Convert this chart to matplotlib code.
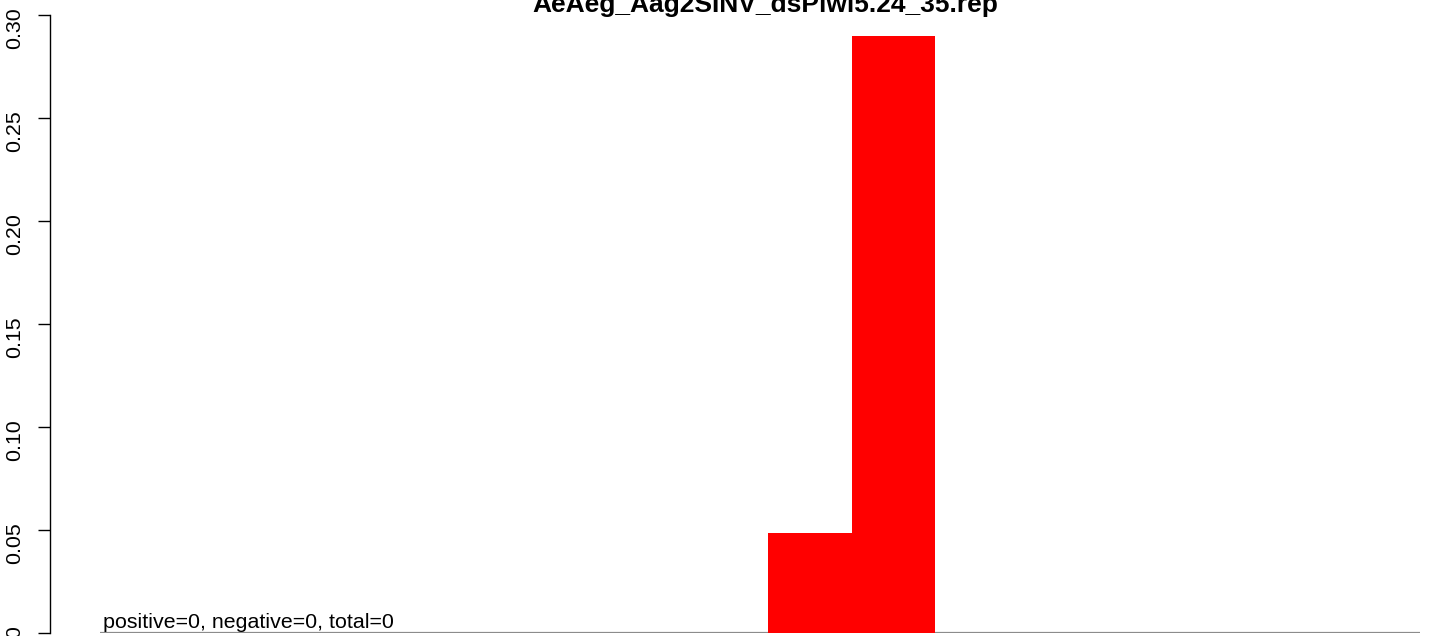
import matplotlib
matplotlib.use("Agg")
import matplotlib.pyplot as plt
import numpy as np

plt.rcParams["font.family"] = ["Liberation Sans", "DejaVu Sans"]

# read lengths histogram (one slot per bar, no x labels in the original)
slots = np.arange(16)
values = [0, 0, 0, 0, 0, 0, 0, 0, 0.0485, 0.2898, 0, 0, 0, 0, 0, 0]
yticks = [0.00, 0.05, 0.10, 0.15, 0.20, 0.25, 0.30]
title = "AeAeg_Aag2SINV_dsPiwi5.24_35.rep"
note = "positive=0, negative=0, total=0"

W, H = 1429, 636
fig = plt.figure(figsize=(W / 100, H / 100), dpi=100)
ax = fig.add_axes([100 / W, 3 / H, 1320 / W, 618 / H])

ax.axhline(0, color="#8c8c8c", lw=1.6, zorder=1)
ax.bar(slots, values, width=1.0, align="edge", color="#ff0000", lw=0, zorder=2)

ax.set_xlim(0, 1320 / 83.5)
ax.set_ylim(0, 0.30)
ax.set_xticks([])
ax.set_yticks(yticks, ["%.2f" % v for v in yticks])
ax.tick_params(axis="y", length=8.6, width=1.0, pad=10,
               labelsize=15.4, labelrotation=90)
for lab in ax.get_yticklabels():
    lab.set_va("center")
for s in ["top", "right", "bottom"]:
    ax.spines[s].set_visible(False)
ax.spines["left"].set_position(("outward", 36))
ax.spines["left"].set_linewidth(1.0)

ax.text(0.04, 0.0007, note, fontsize=15.4, ha="left", va="bottom")
fig.text(765 / W, 1 - 12 / H, title, fontsize=19, fontweight="bold",
         ha="center", va="baseline")

fig.savefig("out.png", dpi=100)
